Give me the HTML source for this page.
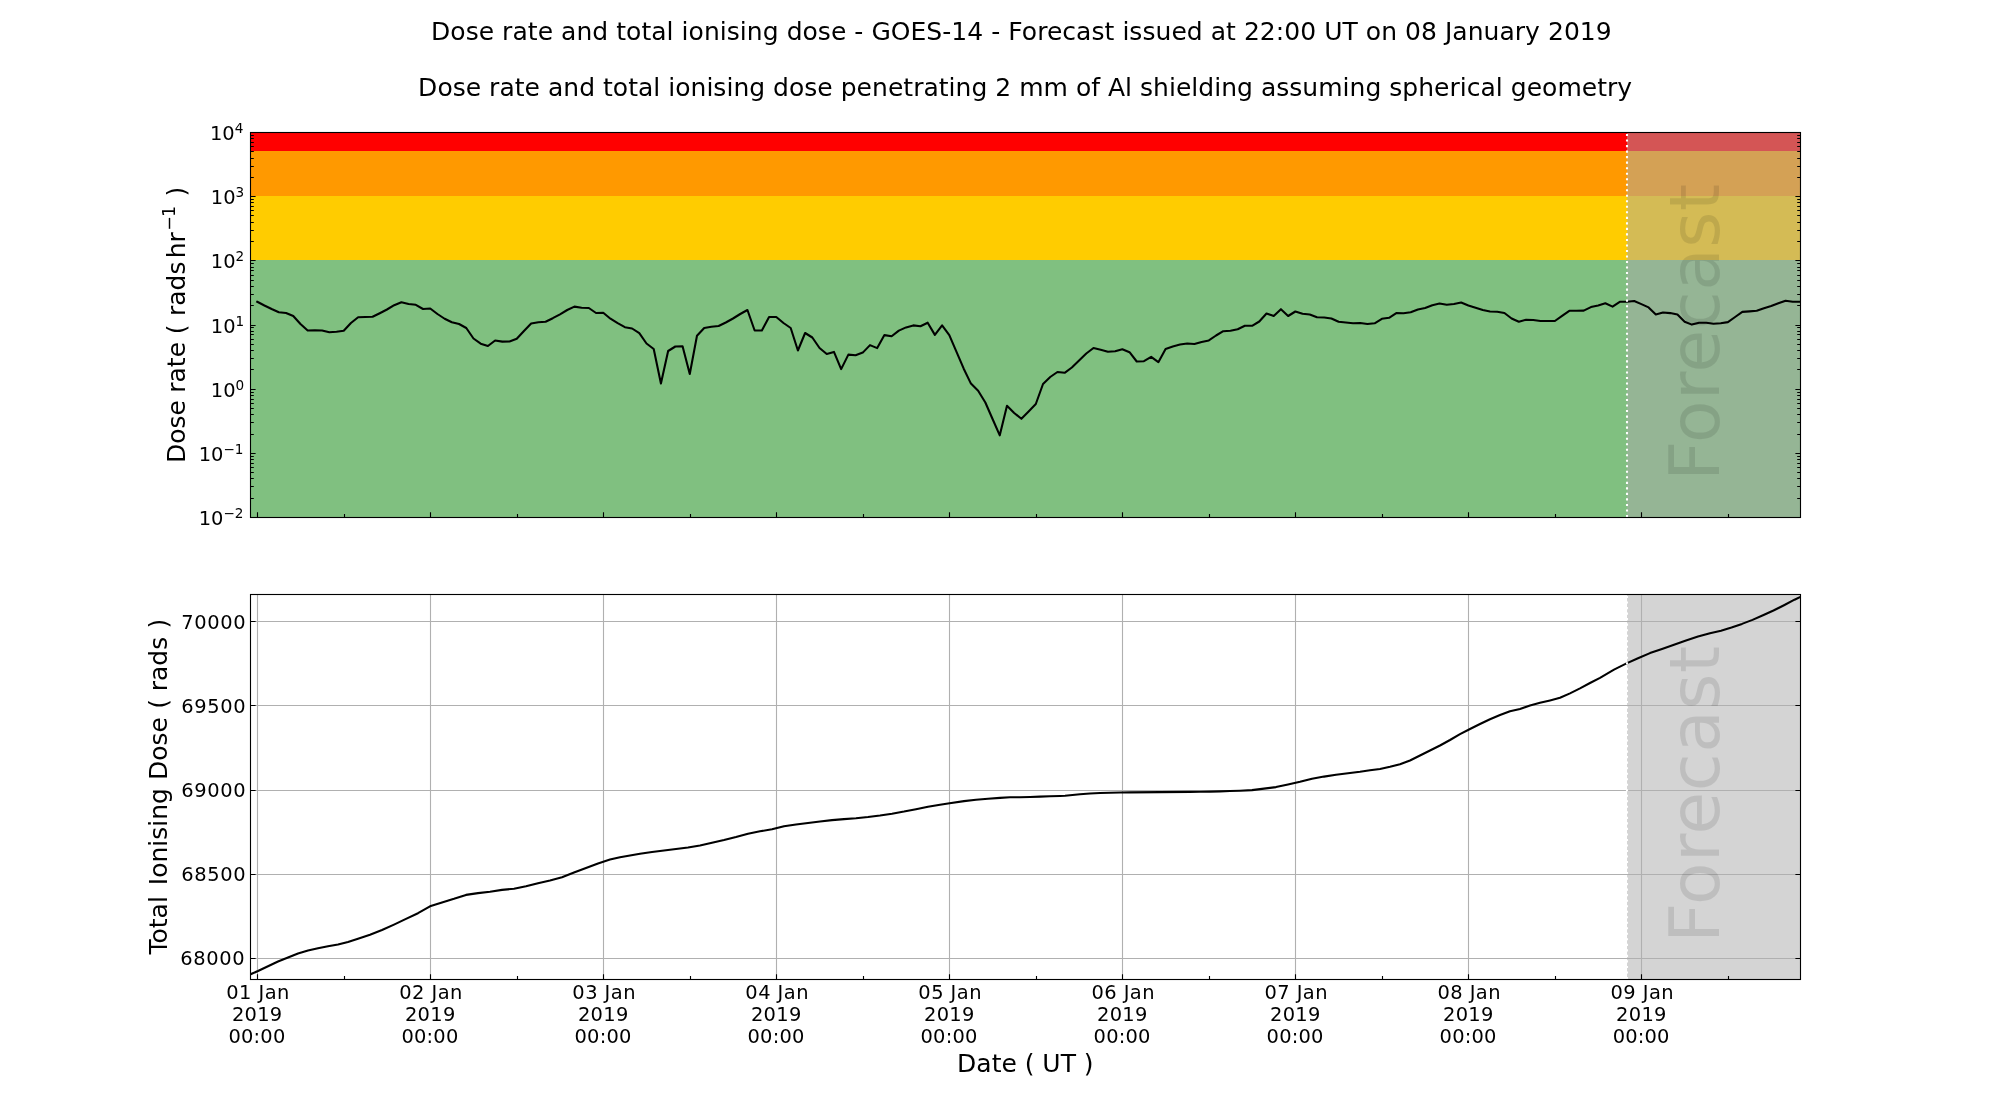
<!DOCTYPE html>
<html><head><meta charset="utf-8"><title>Dose rate and total ionising dose - GOES-14</title>
<style>html,body{margin:0;padding:0;background:#fff;overflow:hidden;}svg{display:block;will-change:transform;}</style>
</head><body>
<svg width="2000" height="1100" viewBox="0 0 2000 1100" font-family="'DejaVu Sans', 'Liberation Sans', sans-serif">
<rect x="0" y="0" width="2000" height="1100" fill="#ffffff"/>
<text x="431.0" y="40.0" font-size="25.0" textLength="1180.675" lengthAdjust="spacing">Dose rate and total ionising dose - GOES-14 - Forecast issued at 22:00 UT on 08 January 2019</text>
<text x="418.1" y="95.9" font-size="25.0" textLength="1213.984" lengthAdjust="spacing">Dose rate and total ionising dose penetrating 2 mm of Al shielding assuming spherical geometry</text>
<rect x="250" y="260.00" width="1550" height="257.00" fill="#80c080"/>
<rect x="250" y="196.00" width="1550" height="64.00" fill="#ffcc00"/>
<rect x="250" y="151.00" width="1550" height="45.00" fill="#ff9900"/>
<rect x="250" y="132" width="1550" height="19.00" fill="#ff0000"/>
<rect x="1627" y="132" width="173" height="385" fill="#a9a9a9" fill-opacity="0.5"/>
<clipPath id="ct"><rect x="250" y="132" width="1550" height="385"/></clipPath>
<polyline clip-path="url(#ct)" points="257.21,301.80 264.42,305.50 271.63,309.00 278.84,312.20 286.05,313.00 293.26,316.00 300.47,324.00 307.67,330.50 314.88,330.30 322.09,330.50 329.30,332.20 336.51,331.70 343.72,330.80 350.93,323.00 358.14,317.20 365.35,317.00 372.56,316.80 379.77,313.20 386.98,309.50 394.19,305.20 401.40,302.20 408.60,304.00 415.81,304.80 423.02,309.00 430.23,308.50 437.44,314.00 444.65,318.75 451.86,322.20 459.07,324.00 466.28,328.00 473.49,338.50 480.70,343.70 487.91,346.00 495.12,340.50 502.33,341.60 509.53,341.50 516.74,338.80 523.95,331.00 531.16,323.50 538.37,322.20 545.58,321.80 552.79,318.20 560.00,314.30 567.21,310.00 574.42,306.60 581.63,307.70 588.84,308.00 596.05,313.00 603.26,312.80 610.47,318.70 617.67,323.20 624.88,327.20 632.09,328.50 639.30,333.20 646.51,343.50 653.72,349.00 660.93,383.50 668.14,351.00 675.35,346.50 682.56,346.20 689.77,374.00 696.98,335.80 704.19,328.00 711.40,326.80 718.60,326.00 725.81,322.50 733.02,318.50 740.23,314.00 747.44,310.00 754.65,330.50 761.86,330.50 769.07,317.00 776.28,317.00 783.49,323.00 790.70,328.00 797.91,350.50 805.12,333.00 812.33,337.50 819.53,348.00 826.74,354.00 833.95,351.90 841.16,369.10 848.37,354.60 855.58,355.20 862.79,352.60 870.00,345.10 877.21,348.10 884.42,335.10 891.63,336.30 898.84,330.60 906.05,327.40 913.26,325.40 920.47,326.20 927.67,322.70 934.88,334.90 942.09,325.40 949.30,335.10 956.51,351.90 963.72,368.70 970.93,383.60 978.14,390.70 985.35,402.50 992.56,419.00 999.77,435.30 1006.98,405.80 1014.19,413.00 1021.40,418.80 1028.60,411.50 1035.81,404.00 1043.02,384.00 1050.23,377.00 1057.44,372.00 1064.65,372.80 1071.86,367.50 1079.07,360.50 1086.28,353.50 1093.49,348.00 1100.70,349.80 1107.91,351.80 1115.12,351.30 1122.33,349.20 1129.53,352.20 1136.74,361.50 1143.95,361.20 1151.16,356.80 1158.37,362.20 1165.58,349.00 1172.79,346.50 1180.00,344.50 1187.21,343.50 1194.42,344.00 1201.63,341.90 1208.84,340.40 1216.05,335.50 1223.26,331.20 1230.47,330.80 1237.67,329.20 1244.88,325.80 1252.09,325.80 1259.30,321.50 1266.51,313.50 1273.72,316.00 1280.93,309.20 1288.14,316.00 1295.35,311.50 1302.56,313.80 1309.77,314.50 1316.98,317.20 1324.19,317.50 1331.40,318.50 1338.60,321.80 1345.81,322.50 1353.02,323.20 1360.23,323.00 1367.44,324.00 1374.65,323.30 1381.86,318.80 1389.07,317.80 1396.28,313.10 1403.49,313.20 1410.70,312.20 1417.91,309.50 1425.12,308.00 1432.33,305.20 1439.53,303.50 1446.74,304.80 1453.95,304.00 1461.16,302.50 1468.37,305.50 1475.58,307.80 1482.79,310.00 1490.00,311.50 1497.21,311.80 1504.42,313.00 1511.63,318.50 1518.84,321.80 1526.05,319.70 1533.26,320.00 1540.47,321.00 1547.67,321.00 1554.88,321.00 1562.09,315.80 1569.30,310.80 1576.51,310.80 1583.72,310.60 1590.93,307.10 1598.14,305.50 1605.35,303.30 1612.56,306.60 1619.77,301.80 1626.98,301.80 1634.19,301.00 1641.40,304.10 1648.60,307.40 1655.81,314.50 1663.02,312.50 1670.23,313.10 1677.44,314.50 1684.65,321.70 1691.86,324.60 1699.07,322.80 1706.28,322.80 1713.49,323.70 1720.70,323.20 1727.91,322.10 1735.12,317.00 1742.33,311.90 1749.53,311.40 1756.74,310.80 1763.95,308.20 1771.16,306.00 1778.37,303.30 1785.58,300.70 1792.79,301.80 1800.00,301.80" fill="none" stroke="#000" stroke-width="2.08" stroke-linejoin="round" stroke-linecap="square"/>
<line x1="1627" y1="517" x2="1627" y2="132" stroke="#fff" stroke-width="2.08" stroke-dasharray="2.083,3.4375"/>
<text transform="translate(1719.1,480.8) rotate(-90)" font-size="69.44" textLength="297.028" lengthAdjust="spacing" fill="#000000" fill-opacity="0.1">Forecast</text>
<path d="M250.5,517.5 h5.1 M1800.5,517.5 h-5.1 M250.5,453.5 h5.1 M1800.5,453.5 h-5.1 M250.5,389.5 h5.1 M1800.5,389.5 h-5.1 M250.5,325.5 h5.1 M1800.5,325.5 h-5.1 M250.5,260.5 h5.1 M1800.5,260.5 h-5.1 M250.5,196.5 h5.1 M1800.5,196.5 h-5.1 M250.5,132.5 h5.1 M1800.5,132.5 h-5.1 M250.5,498.5 h3.3 M1800.5,498.5 h-3.3 M250.5,486.5 h3.3 M1800.5,486.5 h-3.3 M250.5,478.5 h3.3 M1800.5,478.5 h-3.3 M250.5,472.5 h3.3 M1800.5,472.5 h-3.3 M250.5,467.5 h3.3 M1800.5,467.5 h-3.3 M250.5,463.5 h3.3 M1800.5,463.5 h-3.3 M250.5,459.5 h3.3 M1800.5,459.5 h-3.3 M250.5,456.5 h3.3 M1800.5,456.5 h-3.3 M250.5,434.5 h3.3 M1800.5,434.5 h-3.3 M250.5,422.5 h3.3 M1800.5,422.5 h-3.3 M250.5,414.5 h3.3 M1800.5,414.5 h-3.3 M250.5,408.5 h3.3 M1800.5,408.5 h-3.3 M250.5,403.5 h3.3 M1800.5,403.5 h-3.3 M250.5,399.5 h3.3 M1800.5,399.5 h-3.3 M250.5,395.5 h3.3 M1800.5,395.5 h-3.3 M250.5,392.5 h3.3 M1800.5,392.5 h-3.3 M250.5,369.5 h3.3 M1800.5,369.5 h-3.3 M250.5,358.5 h3.3 M1800.5,358.5 h-3.3 M250.5,350.5 h3.3 M1800.5,350.5 h-3.3 M250.5,344.5 h3.3 M1800.5,344.5 h-3.3 M250.5,339.5 h3.3 M1800.5,339.5 h-3.3 M250.5,334.5 h3.3 M1800.5,334.5 h-3.3 M250.5,331.5 h3.3 M1800.5,331.5 h-3.3 M250.5,327.5 h3.3 M1800.5,327.5 h-3.3 M250.5,305.5 h3.3 M1800.5,305.5 h-3.3 M250.5,294.5 h3.3 M1800.5,294.5 h-3.3 M250.5,286.5 h3.3 M1800.5,286.5 h-3.3 M250.5,280.5 h3.3 M1800.5,280.5 h-3.3 M250.5,275.5 h3.3 M1800.5,275.5 h-3.3 M250.5,270.5 h3.3 M1800.5,270.5 h-3.3 M250.5,267.5 h3.3 M1800.5,267.5 h-3.3 M250.5,263.5 h3.3 M1800.5,263.5 h-3.3 M250.5,241.5 h3.3 M1800.5,241.5 h-3.3 M250.5,230.5 h3.3 M1800.5,230.5 h-3.3 M250.5,222.5 h3.3 M1800.5,222.5 h-3.3 M250.5,215.5 h3.3 M1800.5,215.5 h-3.3 M250.5,210.5 h3.3 M1800.5,210.5 h-3.3 M250.5,206.5 h3.3 M1800.5,206.5 h-3.3 M250.5,202.5 h3.3 M1800.5,202.5 h-3.3 M250.5,199.5 h3.3 M1800.5,199.5 h-3.3 M250.5,177.5 h3.3 M1800.5,177.5 h-3.3 M250.5,166.5 h3.3 M1800.5,166.5 h-3.3 M250.5,158.5 h3.3 M1800.5,158.5 h-3.3 M250.5,151.5 h3.3 M1800.5,151.5 h-3.3 M250.5,146.5 h3.3 M1800.5,146.5 h-3.3 M250.5,142.5 h3.3 M1800.5,142.5 h-3.3 M250.5,138.5 h3.3 M1800.5,138.5 h-3.3 M250.5,135.5 h3.3 M1800.5,135.5 h-3.3 M257.5,517.5 v-5.2 M430.5,517.5 v-5.2 M603.5,517.5 v-5.2 M776.5,517.5 v-5.2 M949.5,517.5 v-5.2 M1122.5,517.5 v-5.2 M1295.5,517.5 v-5.2 M1468.5,517.5 v-5.2 M1641.5,517.5 v-5.2 M344.5,517.5 v-3.4 M517.5,517.5 v-3.4 M690.5,517.5 v-3.4 M863.5,517.5 v-3.4 M1036.5,517.5 v-3.4 M1209.5,517.5 v-3.4 M1382.5,517.5 v-3.4 M1555.5,517.5 v-3.4 M1728.5,517.5 v-3.4" stroke="#000" stroke-width="1.11" fill="none"/>
<rect x="250.5" y="132.5" width="1550.0" height="385.0" fill="none" stroke="#000" stroke-width="1.11"/>
<text x="198.76" y="524.85" font-size="19.44">10<tspan font-size="13.608" dy="-7.0">−2</tspan></text>
<text x="198.76" y="460.85" font-size="19.44">10<tspan font-size="13.608" dy="-7.0">−1</tspan></text>
<text x="210.86" y="396.85" font-size="19.44">10<tspan font-size="13.608" dy="-7.0">0</tspan></text>
<text x="210.86" y="332.85" font-size="19.44">10<tspan font-size="13.608" dy="-7.0">1</tspan></text>
<text x="210.86" y="267.85" font-size="19.44">10<tspan font-size="13.608" dy="-7.0">2</tspan></text>
<text x="210.86" y="203.85" font-size="19.44">10<tspan font-size="13.608" dy="-7.0">3</tspan></text>
<text x="209.96" y="139.85" font-size="19.44">10<tspan font-size="13.608" dy="-7.0">4</tspan></text>
<text transform="translate(185.10,462.95) rotate(-90)" font-size="25.0">Dose</text>
<text transform="translate(185.10,392.77) rotate(-90)" font-size="25.0">rate</text>
<text transform="translate(185.10,334.15) rotate(-90)" font-size="25.0">(</text>
<text transform="translate(185.10,316.07) rotate(-90)" font-size="25.0">rads</text>
<text transform="translate(185.10,258.27) rotate(-90)" font-size="25.0">hr</text>
<text transform="translate(175.40,230.85) rotate(-90)" font-size="17.5">−</text>
<text transform="translate(175.40,216.92) rotate(-90)" font-size="17.5">1</text>
<text transform="translate(185.10,196.60) rotate(-90)" font-size="25.0">)</text>
<rect x="1627" y="594" width="173" height="385" fill="#a9a9a9" fill-opacity="0.5"/>
<path d="M257.5,594 V979 M430.5,594 V979 M603.5,594 V979 M776.5,594 V979 M949.5,594 V979 M1122.5,594 V979 M1295.5,594 V979 M1468.5,594 V979 M1641.5,594 V979 M250,958.5 H1800 M250,874.5 H1800 M250,790.5 H1800 M250,705.5 H1800 M250,621.5 H1800" stroke="#b0b0b0" stroke-width="1.11" fill="none"/>
<clipPath id="cb"><rect x="250" y="594" width="1550" height="385"/></clipPath>
<polyline clip-path="url(#cb)" points="250.00,974.50 258.00,971.00 268.00,966.20 278.00,961.50 288.00,957.50 298.00,953.50 308.00,950.50 318.00,948.30 328.00,946.30 338.00,944.50 348.00,942.00 358.00,938.80 370.00,934.80 382.00,930.00 394.00,924.60 406.00,918.90 418.00,913.20 430.00,906.30 442.00,902.40 454.00,898.80 466.00,894.90 478.00,893.10 490.00,891.70 502.00,889.90 514.00,888.70 526.00,886.30 538.00,883.30 550.00,880.60 562.00,877.30 574.00,872.50 586.00,868.00 598.00,863.50 610.00,859.60 620.00,857.20 630.00,855.40 640.00,853.80 652.00,852.00 664.00,850.50 676.00,849.00 688.00,847.50 700.00,845.40 712.00,842.70 724.00,840.00 736.00,837.00 748.00,833.70 760.00,831.30 772.00,829.30 784.00,826.30 796.00,824.50 808.00,823.00 820.00,821.50 832.00,820.10 844.00,819.10 856.00,818.20 868.00,817.00 880.00,815.50 892.00,813.70 904.00,811.60 916.00,809.20 928.00,806.80 940.00,804.70 949.60,803.20 964.00,801.10 976.00,799.70 988.00,798.70 1000.00,797.90 1010.00,797.30 1020.00,797.20 1030.00,797.00 1040.00,796.60 1050.00,796.30 1060.00,796.00 1065.00,795.80 1070.00,795.20 1080.00,794.30 1090.00,793.50 1100.00,793.00 1110.00,792.70 1120.00,792.50 1130.00,792.40 1160.00,792.10 1190.00,791.90 1200.00,791.70 1210.00,791.60 1220.00,791.40 1230.00,791.00 1240.00,790.70 1252.00,790.10 1264.00,788.60 1276.00,787.10 1288.00,784.40 1300.00,781.70 1312.00,778.70 1324.00,776.60 1336.00,774.80 1348.00,773.30 1360.00,771.80 1370.00,770.30 1380.00,769.00 1390.00,766.80 1400.00,764.30 1410.00,760.50 1420.00,755.50 1430.00,750.50 1440.00,745.50 1450.00,740.00 1460.00,734.20 1470.00,729.00 1480.00,724.00 1490.00,719.20 1500.00,715.00 1510.00,711.20 1520.00,709.00 1530.00,705.40 1540.00,702.80 1550.00,700.40 1560.00,697.80 1570.00,693.40 1580.00,688.40 1590.00,683.00 1600.00,677.80 1614.00,669.60 1626.00,663.60 1638.00,658.20 1650.00,653.10 1662.00,648.90 1674.00,644.70 1686.00,640.50 1698.00,636.60 1710.00,633.15 1721.00,630.70 1731.50,627.50 1742.00,623.90 1752.50,619.90 1763.00,615.20 1773.50,610.50 1784.00,605.20 1794.50,599.70 1800.00,597.10" fill="none" stroke="#000" stroke-width="2.08" stroke-linejoin="round" stroke-linecap="square"/>
<line x1="1627" y1="979" x2="1627" y2="594" stroke="#fff" stroke-width="2.08" stroke-dasharray="2.083,3.4375"/>
<text transform="translate(1719.1,942.8) rotate(-90)" font-size="69.44" textLength="297.028" lengthAdjust="spacing" fill="#000000" fill-opacity="0.1">Forecast</text>
<path d="M250.5,958.5 h5.1 M1800.5,958.5 h-5.1 M250.5,874.5 h5.1 M1800.5,874.5 h-5.1 M250.5,790.5 h5.1 M1800.5,790.5 h-5.1 M250.5,705.5 h5.1 M1800.5,705.5 h-5.1 M250.5,621.5 h5.1 M1800.5,621.5 h-5.1 M257.5,979.5 v-5.2 M430.5,979.5 v-5.2 M603.5,979.5 v-5.2 M776.5,979.5 v-5.2 M949.5,979.5 v-5.2 M1122.5,979.5 v-5.2 M1295.5,979.5 v-5.2 M1468.5,979.5 v-5.2 M1641.5,979.5 v-5.2 M344.5,979.5 v-3.4 M517.5,979.5 v-3.4 M690.5,979.5 v-3.4 M863.5,979.5 v-3.4 M1036.5,979.5 v-3.4 M1209.5,979.5 v-3.4 M1382.5,979.5 v-3.4 M1555.5,979.5 v-3.4 M1728.5,979.5 v-3.4" stroke="#000" stroke-width="1.11" fill="none"/>
<rect x="250.5" y="594.5" width="1550.0" height="385.0" fill="none" stroke="#000" stroke-width="1.11"/>
<text x="181.2" y="628.60" font-size="19.44" textLength="64.3" lengthAdjust="spacing">70000</text>
<text x="181.2" y="712.60" font-size="19.44" textLength="64.3" lengthAdjust="spacing">69500</text>
<text x="181.2" y="796.60" font-size="19.44" textLength="64.3" lengthAdjust="spacing">69000</text>
<text x="181.2" y="880.60" font-size="19.44" textLength="64.3" lengthAdjust="spacing">68500</text>
<text x="180.2" y="964.60" font-size="19.44" textLength="64.3" lengthAdjust="spacing">68000</text>
<text font-size="19.44" x="226.26" y="998.9" textLength="63.15" lengthAdjust="spacing">01 Jan</text>
<text font-size="19.44" x="231.88" y="1020.7" textLength="50.369" lengthAdjust="spacing">2019</text>
<text font-size="19.44" x="228.46" y="1042.7" textLength="56.8" lengthAdjust="spacing">00:00</text>
<text font-size="19.44" x="399.28" y="998.9" textLength="63.15" lengthAdjust="spacing">02 Jan</text>
<text font-size="19.44" x="404.90" y="1020.7" textLength="50.369" lengthAdjust="spacing">2019</text>
<text font-size="19.44" x="401.48" y="1042.7" textLength="56.8" lengthAdjust="spacing">00:00</text>
<text font-size="19.44" x="572.31" y="998.9" textLength="63.15" lengthAdjust="spacing">03 Jan</text>
<text font-size="19.44" x="577.93" y="1020.7" textLength="50.369" lengthAdjust="spacing">2019</text>
<text font-size="19.44" x="574.51" y="1042.7" textLength="56.8" lengthAdjust="spacing">00:00</text>
<text font-size="19.44" x="745.33" y="998.9" textLength="63.15" lengthAdjust="spacing">04 Jan</text>
<text font-size="19.44" x="750.95" y="1020.7" textLength="50.369" lengthAdjust="spacing">2019</text>
<text font-size="19.44" x="747.53" y="1042.7" textLength="56.8" lengthAdjust="spacing">00:00</text>
<text font-size="19.44" x="918.35" y="998.9" textLength="63.15" lengthAdjust="spacing">05 Jan</text>
<text font-size="19.44" x="923.97" y="1020.7" textLength="50.369" lengthAdjust="spacing">2019</text>
<text font-size="19.44" x="920.55" y="1042.7" textLength="56.8" lengthAdjust="spacing">00:00</text>
<text font-size="19.44" x="1091.38" y="998.9" textLength="63.15" lengthAdjust="spacing">06 Jan</text>
<text font-size="19.44" x="1097.00" y="1020.7" textLength="50.369" lengthAdjust="spacing">2019</text>
<text font-size="19.44" x="1093.58" y="1042.7" textLength="56.8" lengthAdjust="spacing">00:00</text>
<text font-size="19.44" x="1264.40" y="998.9" textLength="63.15" lengthAdjust="spacing">07 Jan</text>
<text font-size="19.44" x="1270.02" y="1020.7" textLength="50.369" lengthAdjust="spacing">2019</text>
<text font-size="19.44" x="1266.60" y="1042.7" textLength="56.8" lengthAdjust="spacing">00:00</text>
<text font-size="19.44" x="1437.42" y="998.9" textLength="63.15" lengthAdjust="spacing">08 Jan</text>
<text font-size="19.44" x="1443.04" y="1020.7" textLength="50.369" lengthAdjust="spacing">2019</text>
<text font-size="19.44" x="1439.62" y="1042.7" textLength="56.8" lengthAdjust="spacing">00:00</text>
<text font-size="19.44" x="1610.45" y="998.9" textLength="63.15" lengthAdjust="spacing">09 Jan</text>
<text font-size="19.44" x="1616.07" y="1020.7" textLength="50.369" lengthAdjust="spacing">2019</text>
<text font-size="19.44" x="1612.65" y="1042.7" textLength="56.8" lengthAdjust="spacing">00:00</text>
<text transform="translate(167.20,954.53) rotate(-90)" font-size="25.0">Total</text>
<text transform="translate(167.20,885.15) rotate(-90)" font-size="25.0">Ionising</text>
<text transform="translate(167.20,779.95) rotate(-90)" font-size="25.0">Dose</text>
<text transform="translate(167.20,708.65) rotate(-90)" font-size="25.0">(</text>
<text transform="translate(167.20,691.27) rotate(-90)" font-size="25.0">rads</text>
<text transform="translate(167.20,628.50) rotate(-90)" font-size="25.0">)</text>
<text x="957.1" y="1071.7" font-size="25.0" textLength="136.472" lengthAdjust="spacing">Date ( UT )</text>
</svg>
</body></html>
